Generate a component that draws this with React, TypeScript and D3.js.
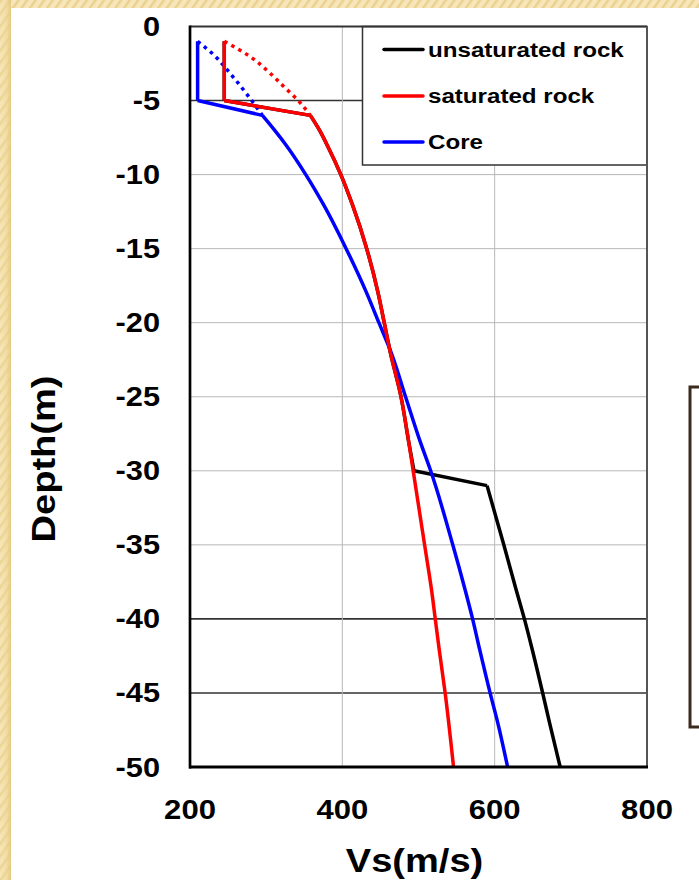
import React from 'react';
import * as d3 from 'd3';

// ---- data ----
const xTicks = [200, 400, 600, 800];
const yTicks = [0, -5, -10, -15, -20, -25, -30, -35, -40, -45, -50];
const darkGridDepths = [-5, -40, -45];
const xGridValues = [400, 600];

const legendLabels = ['unsaturated rock', 'saturated rock', 'Core'];
const seriesColors = ['#000000', '#ff0000', '#0000ff'];

// unsaturated rock (black)
const unsatDepth = [-1, -5, -6, -7, -8, -10, -12, -15, -18, -20, -22, -25, -28, -30, -31, -35, -38, -40, -42, -45, -47, -50];
const unsatVs = [245, 245, 358, 370, 380, 398, 413, 432, 447, 455, 463, 477, 487, 494, 590, 612, 628, 639, 649, 663, 672, 686];

// saturated rock (red, solid)
const satDepth = [-1, -5, -6, -7, -8, -10, -12, -15, -18, -20, -22, -25, -28, -30, -35, -38, -40, -42, -45, -50];
const satVs = [245, 245, 358, 370, 380, 398, 413, 432, 447, 455, 463, 477, 487, 493, 508, 517, 522, 527, 535, 546];

// saturated rock (red, dotted)
const satDotDepth = [-1, -2, -3, -4, -5, -6];
const satDotVs = [245, 278, 302, 322, 342, 358];

// Core (blue, solid)
const coreDepth = [-1, -5, -6, -7, -8, -10, -12, -15, -18, -20, -22, -25, -28, -30, -35, -38, -40, -42, -45, -47, -50];
const coreVs = [210, 210, 295, 311, 326, 352, 375, 405, 432, 448, 464, 483, 502, 516, 545, 561, 571, 580, 594, 604, 617];

// Core (blue, dotted)
const coreDotDepth = [-1, -2, -3, -4, -5, -6];
const coreDotVs = [210, 233, 250, 266, 281, 295];

const FONT = '"Liberation Sans", Arial, Helvetica, sans-serif';

function zip(vs: number[], ds: number[]): [number, number][] {
  return vs.map((v, i) => [v, ds[i]]);
}

function SText(props: {
  x: number; y: number; anchor?: string; size: number; sx?: number; rotate?: number; children: React.ReactNode;
}) {
  const { x, y, anchor = 'start', size, sx = 1.15, rotate, children } = props;
  const tr = `translate(${x},${y})${rotate ? ` rotate(${rotate})` : ''} scale(${sx},1)`;
  return (
    <text transform={tr} textAnchor={anchor as any} fontSize={size} fontFamily={FONT} fontWeight="bold" fill="#000">
      {children}
    </text>
  );
}

export default function App() {
  const W = 699, H = 880;
  const left = 190, right = 647, top = 26.5, bottom = 767;
  const x = d3.scaleLinear().domain([200, 800]).range([left, right]);
  const y = d3.scaleLinear().domain([0, -50]).range([top, bottom]);
  const lin = d3.line<[number, number]>().x(d => x(d[0])).y(d => y(d[1]));
  const smooth = d3.line<[number, number]>().x(d => x(d[0])).y(d => y(d[1])).curve(d3.curveMonotoneY);

  // draw a series as linear pieces joined at sharp kinks, smooth elsewhere
  const seriesPath = (vs: number[], ds: number[], kinkDepths: number[]) => {
    const pts = zip(vs, ds);
    const breaks = [0, ...kinkDepths.map(k => ds.indexOf(k)).filter(i => i >= 0), pts.length - 1];
    let d = '';
    for (let i = 0; i < breaks.length - 1; i++) {
      const seg = pts.slice(breaks[i], breaks[i + 1] + 1);
      const p = seg.length > 2 ? smooth(seg) : lin(seg);
      d += p || '';
    }
    return d;
  };

  const legX0 = 362.5, legY0 = 26.5, legX1 = 647, legY1 = 165;
  const legRows = [49.5, 96, 142];

  return (
    <div style={{ position: 'absolute', left: 0, top: 0 }}>
      <svg width={W} height={H} style={{ display: 'block' }}>
        <defs>
          <pattern id="stripes" width="7" height="7" patternUnits="userSpaceOnUse" patternTransform="rotate(35)">
            <rect width="7" height="7" fill="#f6e6b9" />
            <rect width="2.5" height="7" fill="#ead190" />
          </pattern>
          <linearGradient id="leftgrad" x1="0" x2="1" y1="0" y2="0">
            <stop offset="0" stopColor="#f4e2ad" stopOpacity="0.2" />
            <stop offset="0.6" stopColor="#eed594" stopOpacity="0.6" />
            <stop offset="1" stopColor="#e3c67c" stopOpacity="0.9" />
          </linearGradient>
        </defs>
        {/* page background */}
        <rect x={0} y={0} width={W} height={H} fill="url(#stripes)" />
        <rect x={0} y={0} width={11} height={H} fill="url(#leftgrad)" />
        <rect x={11} y={8} width={W - 11} height={H - 8} fill="#ffffff" />

        {/* gridlines */}
        {yTicks.filter(d => d !== 0 && d !== -50).map(d => {
          const dark = darkGridDepths.includes(d);
          return (
            <line key={'gy' + d} x1={left} x2={right} y1={y(d)} y2={y(d)}
              stroke={dark ? '#333' : '#b8b8b8'} strokeWidth={dark ? 1.6 : 1} />
          );
        })}
        {xGridValues.map(v => (
          <line key={'gx' + v} x1={x(v)} x2={x(v)} y1={top} y2={bottom} stroke="#b8b8b8" strokeWidth={1} />
        ))}

        {/* series */}
        <path d={seriesPath(unsatVs, unsatDepth, [-5, -6, -30, -31])} fill="none" stroke={seriesColors[0]} strokeWidth={3.5} strokeLinejoin="round" />
        <path d={seriesPath(coreVs, coreDepth, [-5, -6])} fill="none" stroke={seriesColors[2]} strokeWidth={3.5} strokeLinejoin="round" />
        <path d={smooth(zip(coreDotVs, coreDotDepth)) || ''} fill="none" stroke={seriesColors[2]} strokeWidth={3.5} strokeDasharray="3.5 4.5" />
        <path d={seriesPath(satVs, satDepth, [-5, -6])} fill="none" stroke={seriesColors[1]} strokeWidth={3.5} strokeLinejoin="round" />
        <path d={smooth(zip(satDotVs, satDotDepth)) || ''} fill="none" stroke={seriesColors[1]} strokeWidth={3.5} strokeDasharray="3.5 4.5" />

        {/* legend */}
        <rect x={legX0} y={legY0} width={legX1 - legX0} height={legY1 - legY0} fill="#fff" stroke="#333" strokeWidth={1.5} />
        {legendLabels.map((lab, i) => (
          <g key={lab}>
            <line x1={384} x2={423} y1={legRows[i]} y2={legRows[i]} stroke={seriesColors[i]} strokeWidth={3.5} strokeLinecap="round" />
            <SText x={428} y={legRows[i] + 7} size={21} sx={1.15}>{lab}</SText>
          </g>
        ))}

        {/* frame */}
        <line x1={left} x2={right} y1={top} y2={top} stroke="#333" strokeWidth={2} />
        <line x1={right} x2={right} y1={top} y2={bottom} stroke="#555" strokeWidth={2} />
        <line x1={left} x2={left} y1={top - 1} y2={bottom + 1.5} stroke="#000" strokeWidth={2.7} />
        <line x1={left - 1} x2={right + 1} y1={bottom} y2={bottom} stroke="#000" strokeWidth={3} />

        {/* tick labels */}
        {yTicks.map(d => (
          <SText key={'yl' + d} x={160} y={y(d) + 9.5} anchor="end" size={27} sx={1.14}>{String(d)}</SText>
        ))}
        {xTicks.map(v => (
          <SText key={'xl' + v} x={x(v)} y={819} anchor="middle" size={27} sx={1.15}>{String(v)}</SText>
        ))}

        {/* axis titles */}
        <SText x={(left + right) / 2 - 4} y={872} anchor="middle" size={34} sx={1.12}>Vs(m/s)</SText>
        <SText x={55} y={459} anchor="middle" size={34} sx={1.12} rotate={-90}>Depth(m)</SText>

        {/* partial box at right edge */}
        <rect x={690} y={387} width={40} height={340} fill="none" stroke="#3a2a20" strokeWidth={3} />
      </svg>
    </div>
  );
}
